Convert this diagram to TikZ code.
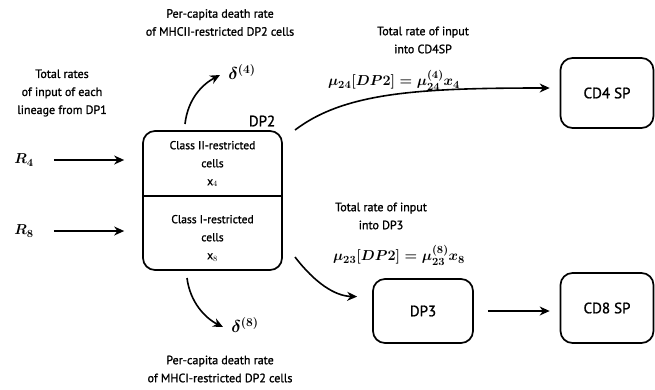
\documentclass[tikz,border=0pt]{standalone}
\usepackage{amsmath}
\usepackage{fontspec}
\setmainfont{PT Sans}[FakeBold=1.2,UprightFont=*,BoldFont=*]
\usetikzlibrary{arrows.meta}
\tikzset{
  lbl/.style={align=center, font=\fontsize{12}{18}\selectfont\bfseries, inner sep=0pt},
  boxtxt/.style={align=center, font=\fontsize{11.5}{18}\selectfont\bfseries, inner sep=0pt},
  stage/.style={draw, line width=1.7pt, rounded corners=12pt, font=\fontsize{15}{18}\selectfont\bfseries, inner sep=0pt},
  arr/.style={line width=1.6pt, -{Stealth[length=10pt,width=9pt]}},
  sym/.style={inner sep=0pt, font=\fontsize{15}{18}\selectfont\boldmath},
}
\begin{document}
\begin{tikzpicture}[x=1pt,y=-1pt]
\useasboundingbox (0,0) rectangle (655,389);
% DP2 box
\node[stage, minimum width=139pt, minimum height=139pt] (dp2) at (212.5,200.5) {};
\draw[line width=1.7pt] (dp2.west |- 0,196) coordinate (divw) -- (dp2.east |- 0,196) coordinate (dive);
\node[font=\fontsize{15}{18}\selectfont\bfseries, inner sep=0pt] (dp2lbl) at (262,121) {DP2};
\node[boxtxt] (c2) at (212.5,164) {Class II-restricted\\cells\\x$_4$};
\node[boxtxt] (c1) at (212.5,238) {Class I-restricted\\cells\\x$_8$};
% inputs
\node[lbl] (tot) at (62,93) {Total rates\\of input of each\\lineage from DP1};
\node[sym] (r4) at (24,160) {$R_4$};
\node[sym] (r8) at (24,231) {$R_8$};
\draw[arr, shorten <=20pt, shorten >=18pt] (r4) -- (dp2.west |- r4);
\draw[arr, shorten <=20pt, shorten >=18pt] (r8) -- (dp2.west |- r8);
% death rates
\node[lbl] (pc4) at (220,22.5) {Per-capita death rate\\of MHCII-restricted DP2 cells};
\node[sym, font=\fontsize{17}{18}\selectfont\boldmath] (d4) at (242,72) {$\delta^{(4)}$};
\coordinate (d4s) at (185,124);
\coordinate (d4e) at (220,75);
\draw[arr] (d4s) .. controls (188,98) and (203,84) .. (d4e);
\node[lbl] (pc8) at (220,369) {Per-capita death rate\\of MHCI-restricted DP2 cells};
\node[sym, font=\fontsize{17}{18}\selectfont\boldmath] (d8) at (245,325) {$\delta^{(8)}$};
\coordinate (d8s) at (187,278);
\coordinate (d8e) at (223,327);
\draw[arr] (d8s) .. controls (190,302) and (205,318) .. (d8e);
% CD4 SP
\node[stage, minimum width=93pt, minimum height=70pt] (cd4) at (607,93) {CD4 SP};
\node[lbl] (tr4) at (423,40) {Total rate of input\\into CD4SP};
\node[sym] (f4) at (394,80) {$\mu_{24}[DP2]=\mu_{24}^{(4)}x_4$};
\coordinate (c4s) at (295,130);
\draw[arr, shorten >=10pt] (c4s) .. controls (345,92) and (420,88) .. (cd4.west |- 0,88);
% DP3
\node[stage, minimum width=100pt, minimum height=64pt] (dp3) at (423,311) {DP3};
\node[lbl] (tr3) at (381,216) {Total rate of input\\into DP3};
\node[sym] (f3) at (399,255) {$\mu_{23}[DP2]=\mu_{23}^{(8)}x_8$};
\coordinate (c3s) at (295,257);
\draw[arr, shorten >=15pt] (c3s) .. controls (315,283) and (335,296) .. (dp3.west |- 0,297);
% CD8 SP
\node[stage, minimum width=93pt, minimum height=70pt] (cd8) at (607,308) {CD8 SP};
\draw[arr, shorten <=14pt, shorten >=10pt] (dp3.east |- 0,311) -- (cd8.west |- 0,311);
\end{tikzpicture}
\end{document}
